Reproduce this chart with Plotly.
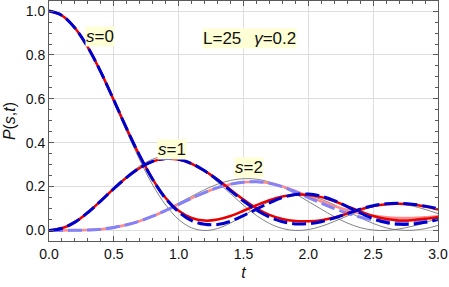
import plotly.graph_objects as go

t = [round(0.1 * i, 1) for i in range(31)]

# s = 0
s0_gray = [1.000, 0.980, 0.922, 0.832, 0.716, 0.585, 0.450, 0.321, 0.207, 0.116, 0.050,
           0.012, 0.000, 0.009, 0.034, 0.068, 0.102, 0.132, 0.154, 0.162, 0.158,
           0.142, 0.117, 0.088, 0.058, 0.032, 0.012, 0.002, 0.001, 0.008, 0.023]
s0_red = [1.000, 0.980, 0.923, 0.835, 0.722, 0.594, 0.463, 0.340, 0.233, 0.148, 0.090,
          0.057, 0.045, 0.050, 0.066, 0.090, 0.115, 0.138, 0.155, 0.163, 0.162,
          0.152, 0.133, 0.110, 0.087, 0.066, 0.052, 0.046, 0.047, 0.053, 0.062]
s0_blue = [1.000, 0.980, 0.923, 0.835, 0.722, 0.594, 0.463, 0.340, 0.232, 0.145, 0.085,
           0.045, 0.028, 0.027, 0.042, 0.068, 0.097, 0.126, 0.150, 0.164, 0.166,
           0.156, 0.136, 0.109, 0.080, 0.054, 0.036, 0.028, 0.029, 0.037, 0.050]

# s = 1
s1_gray = [0.000, 0.010, 0.038, 0.082, 0.136, 0.194, 0.248, 0.294, 0.325, 0.339, 0.333,
           0.309, 0.270, 0.221, 0.168, 0.115, 0.068, 0.032, 0.009, 0.000, 0.004,
           0.019, 0.041, 0.066, 0.089, 0.108, 0.118, 0.119, 0.112, 0.096, 0.077]
s1_red = [0.000, 0.010, 0.038, 0.082, 0.135, 0.191, 0.242, 0.285, 0.315, 0.327, 0.323,
          0.304, 0.272, 0.232, 0.186, 0.141, 0.101, 0.071, 0.052, 0.043, 0.042,
          0.047, 0.059, 0.077, 0.096, 0.111, 0.120, 0.122, 0.118, 0.109, 0.096]
s1_blue = [0.000, 0.010, 0.038, 0.082, 0.135, 0.191, 0.242, 0.285, 0.315, 0.328, 0.324,
           0.305, 0.272, 0.230, 0.182, 0.134, 0.093, 0.061, 0.040, 0.030, 0.031,
           0.040, 0.057, 0.077, 0.097, 0.113, 0.122, 0.124, 0.120, 0.111, 0.099]

# s = 2
s2_gray = [0.000, 0.000, 0.000, 0.002, 0.006, 0.013, 0.025, 0.043, 0.066, 0.094, 0.125,
           0.156, 0.186, 0.211, 0.228, 0.236, 0.234, 0.221, 0.198, 0.167, 0.132,
           0.097, 0.063, 0.034, 0.013, 0.002, 0.000, 0.007, 0.019, 0.035, 0.059]
s2_pink = [0.000, 0.000, 0.001, 0.002, 0.006, 0.014, 0.026, 0.043, 0.065, 0.091, 0.119,
           0.147, 0.173, 0.195, 0.211, 0.220, 0.222, 0.216, 0.201, 0.180, 0.156,
           0.132, 0.111, 0.093, 0.078, 0.067, 0.060, 0.057, 0.057, 0.060, 0.065]
s2_lblue = [0.000, 0.000, 0.001, 0.002, 0.006, 0.014, 0.026, 0.043, 0.065, 0.091, 0.119,
            0.147, 0.173, 0.195, 0.211, 0.220, 0.222, 0.215, 0.199, 0.176, 0.150,
            0.124, 0.100, 0.079, 0.061, 0.048, 0.041, 0.038, 0.040, 0.045, 0.052]

labels = [("<i>s</i>=0", 0.392, 0.882), ("<i>s</i>=1", 0.946, 0.371), ("<i>s</i>=2", 1.546, 0.285),
          ("L=25&nbsp;&nbsp;\u2009<i>γ</i>=0.2", 1.546, 0.877)]

FONT = "Liberation Sans, Arial"

fig = go.Figure()

def add(y, color, width, dash="solid"):
    fig.add_trace(go.Scatter(x=t, y=y, mode="lines", line=dict(color=color, width=width, dash=dash, shape="spline"),
                             showlegend=False, hoverinfo="skip"))

for g in (s0_gray, s1_gray, s2_gray):
    add(g, "rgb(100,100,100)", 0.8)
add(s2_pink, "rgb(255,140,140)", 2.5)
add(s2_lblue, "rgb(130,130,250)", 3, "14px,5px")
add(s0_red, "rgb(235,0,0)", 2.5)
add(s1_red, "rgb(235,0,0)", 2.5)
add(s0_blue, "rgb(0,0,205)", 3, "14px,5px")
add(s1_blue, "rgb(0,0,205)", 3, "14px,5px")

for txt, x, y in labels:
    fig.add_annotation(x=x, y=y, text=txt, showarrow=False, bgcolor="rgb(255,255,214)",
                       font=dict(family=FONT, size=17, color="#111"), borderpad=0)

axis_common = dict(showgrid=True, gridcolor="rgb(222,222,222)", gridwidth=1, ticks="inside", ticklen=5,
                   tickcolor="rgb(90,90,90)", showline=True, linecolor="rgb(90,90,90)", linewidth=1,
                   mirror="allticks", zeroline=False, tickformat=".1f", ticklabeloverflow="allow",
                   tickfont=dict(family=FONT, size=14, color="#111"))

fig.update_xaxes(range=[0, 3], dtick=0.5, tick0=0,
                 minor=dict(ticks="inside", ticklen=3, dtick=0.1, tickcolor="rgb(90,90,90)", showgrid=False),
                 title=dict(text="<i>t</i>", font=dict(family=FONT, size=16, color="#111"), standoff=6),
                 **axis_common)
fig.update_yaxes(range=[-0.048, 1.046], dtick=0.2, tick0=0,
                 minor=dict(ticks="inside", ticklen=3, dtick=0.05, tickcolor="rgb(90,90,90)", showgrid=False),
                 title=dict(text="<i>P</i>(<i>s</i>,<i>t</i>)", font=dict(family=FONT, size=16, color="#111"), standoff=6),
                 **axis_common)

fig.update_layout(width=449, height=287, margin=dict(l=49, r=11, t=1, b=46),
                  plot_bgcolor="white", paper_bgcolor="white")

fig.write_html("out.html", config={"displayModeBar": False},
               post_script="document.body.style.margin='0';document.body.style.overflow='hidden';")
